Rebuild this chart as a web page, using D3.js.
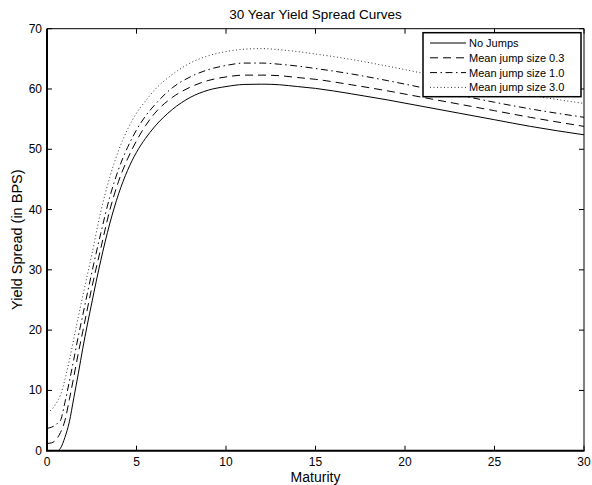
<!DOCTYPE html>
<html>
<head>
<meta charset="utf-8">
<script src="https://cdn.jsdelivr.net/npm/d3@7"></script>
<style>
  body { margin: 0; background: #fff; }
  svg { display: block; font-family: "Liberation Sans", Arial, sans-serif; }
</style>
</head>
<body>
<svg id="chart" width="592" height="485"></svg>
<script>
// maturities (years) and spreads (bps)
const maturity = [0, 0.25, 0.5, 0.6, 0.75, 1, 1.25, 1.5, 1.75, 2, 2.5, 3, 3.5, 4, 4.5, 5, 5.5, 6, 7, 8, 9, 10, 11, 12, 13, 14, 15, 17, 19, 21, 23, 25, 27, 30];

const noJumps = [0, 0, 0, 0, 0.4, 2.2, 4.8, 8.8, 12.8, 17, 24.5, 31.5, 37.6, 42.6, 46.5, 49.5, 51.8, 53.7, 56.6, 58.6, 59.8, 60.4, 60.75, 60.8, 60.7, 60.4, 60.1, 59.2, 58.2, 57.1, 56, 54.9, 53.8, 52.4];
const jump03 = [1.2, 1.3, 1.8, 2.2, 3.0, 5.0, 8.5, 12.3, 16.2, 19.8, 27, 33.5, 39.8, 44.7, 48.4, 51.4, 53.9, 55.9, 58.6, 60.3, 61.4, 62, 62.3, 62.3, 62.2, 61.9, 61.6, 60.7, 59.7, 58.6, 57.5, 56.4, 55.3, 53.8];
const jump10 = [3.7, 3.9, 4.3, 4.6, 5.0, 8.0, 11.5, 15.2, 19, 22.5, 29.5, 36, 42, 46.7, 50.3, 53.2, 55.5, 57.3, 60.2, 62, 63.2, 63.9, 64.3, 64.3, 64.1, 63.8, 63.4, 62.5, 61.4, 60.2, 59, 57.8, 56.7, 55.3];
const jump30 = [6.4, 6.8, 7.8, 8.3, 9.2, 11.8, 15, 18.6, 22.2, 25.7, 32.5, 39.6, 45.3, 49.8, 53.3, 56, 58, 59.8, 62.4, 64.3, 65.5, 66.2, 66.6, 66.7, 66.5, 66.2, 65.8, 64.9, 63.8, 62.6, 61.4, 60.2, 59, 57.6];

const seriesNames = ["No Jumps", "Mean jump size 0.3", "Mean jump size 1.0", "Mean jump size 3.0"];
const seriesValues = [noJumps, jump03, jump10, jump30];
const dashes = [null, "8,5", "7,3.5,1.5,3.5", "1,2.5"];
const strokes = ["#000", "#000", "#000", "#333"];

const xTicks = [0, 5, 10, 15, 20, 25, 30];
const yTicks = [0, 10, 20, 30, 40, 50, 60, 70];

const svg = d3.select("#chart");
const box = { left: 47, right: 584, top: 28.7, bottom: 450.7 };

const x = d3.scaleLinear().domain([0, 30]).range([box.left, box.right]);
const y = d3.scaleLinear().domain([0, 70]).range([box.bottom, box.top]);

svg.append("defs").append("clipPath").attr("id", "plot")
  .append("rect").attr("x", box.left).attr("y", box.top)
  .attr("width", box.right - box.left).attr("height", box.bottom - box.top);

const line = d3.line()
  .x((d, i) => x(maturity[i]))
  .y(d => y(d))
  .curve(d3.curveMonotoneX);

const plot = svg.append("g").attr("clip-path", "url(#plot)");
seriesValues.forEach((vals, i) => {
  plot.append("path")
    .attr("d", line(vals))
    .attr("fill", "none")
    .attr("stroke", strokes[i])
    .attr("stroke-width", 1)
    .attr("stroke-dasharray", dashes[i]);
});

// ticks on all four sides, pointing inward
const tickLen = 5;
const axisG = svg.append("g").attr("stroke", "#000").attr("stroke-width", 1);
xTicks.forEach(t => {
  axisG.append("line").attr("x1", x(t)).attr("x2", x(t)).attr("y1", box.bottom).attr("y2", box.bottom - tickLen);
  axisG.append("line").attr("x1", x(t)).attr("x2", x(t)).attr("y1", box.top).attr("y2", box.top + tickLen);
});
yTicks.forEach(t => {
  axisG.append("line").attr("x1", box.left).attr("x2", box.left + tickLen).attr("y1", y(t)).attr("y2", y(t));
  axisG.append("line").attr("x1", box.right).attr("x2", box.right - tickLen).attr("y1", y(t)).attr("y2", y(t));
});

// box
axisG.append("line").attr("x1", box.left).attr("x2", box.right).attr("y1", box.top).attr("y2", box.top);
axisG.append("line").attr("x1", box.right).attr("x2", box.right).attr("y1", box.top).attr("y2", box.bottom);
axisG.append("line").attr("x1", box.left).attr("x2", box.left).attr("y1", box.top).attr("y2", box.bottom).attr("stroke-width", 2);
axisG.append("line").attr("x1", box.left - 1).attr("x2", box.right + 0.5).attr("y1", box.bottom).attr("y2", box.bottom).attr("stroke-width", 2);

// tick labels
svg.append("g").selectAll("text").data(xTicks).join("text")
  .attr("x", d => x(d)).attr("y", box.bottom + 15)
  .attr("text-anchor", "middle").attr("font-size", 12)
  .text(d => d);
svg.append("g").selectAll("text").data(yTicks).join("text")
  .attr("x", box.left - 5).attr("y", d => y(d) + 4)
  .attr("text-anchor", "end").attr("font-size", 12)
  .text(d => d);

// titles
svg.append("text").attr("x", (box.left + box.right) / 2).attr("y", 19)
  .attr("text-anchor", "middle").attr("font-size", 13.5)
  .text("30 Year Yield Spread Curves");
svg.append("text").attr("x", (box.left + box.right) / 2).attr("y", 481.5)
  .attr("text-anchor", "middle").attr("font-size", 14)
  .text("Maturity");
svg.append("text").attr("transform", `translate(22,${(box.top + box.bottom) / 2}) rotate(-90)`)
  .attr("text-anchor", "middle").attr("font-size", 14.5)
  .text("Yield Spread (in BPS)");

// legend
const lg = svg.append("g");
lg.append("rect").attr("x", 423).attr("y", 32.7).attr("width", 158).attr("height", 64)
  .attr("fill", "#fff").attr("stroke", "#000").attr("stroke-width", 1.5);
seriesNames.forEach((name, i) => {
  const ly = 43 + i * 14.8;
  lg.append("line").attr("x1", 430).attr("x2", 466).attr("y1", ly).attr("y2", ly)
    .attr("stroke", strokes[i]).attr("stroke-width", 1).attr("stroke-dasharray", dashes[i]);
  lg.append("text").attr("x", 469).attr("y", ly + 4).attr("font-size", 11).text(name);
});
</script>
</body>
</html>
